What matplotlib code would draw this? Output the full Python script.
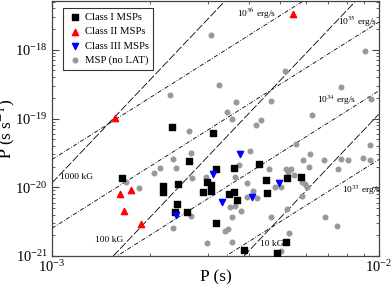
import numpy as np
import matplotlib
matplotlib.use("Agg")
import matplotlib.pyplot as plt
from matplotlib.ticker import LogLocator, NullFormatter

plt.rcParams['font.family'] = ['Liberation Serif', 'DejaVu Serif']
plt.rcParams['mathtext.fontset'] = 'stix'

# periods in ms, period derivatives in units of 1e-21 s/s
class1_p = [2.33, 3.11, 2.62, 3.17, 3.60, 4.30, 1.64, 2.19, 2.19, 2.43, 2.98, 3.06, 4.51, 2.90,
            3.06, 3.48, 3.60, 3.68, 4.55, 5.23, 5.77, 2.41, 2.59, 2.38, 3.17, 3.87, 5.20, 4.88]
class1_pdot = [76.5, 60.6, 23.8, 18.2, 18.9, 21.5, 13.5, 10.3, 8.46, 11.1, 11.8, 10.7, 12.6, 8.46,
               8.75, 7.92, 8.46, 6.48, 8.18, 13.5, 14.0, 5.67, 4.34, 4.34, 3.01, 1.22, 1.60, 1.11]

class2_p = [5.46, 1.56, 1.61, 1.74, 1.66, 1.87]
class2_pdot = [3320, 103, 7.92, 9.05, 4.49, 2.91]

class3_p = [3.76, 3.11, 3.31, 4.09, 2.39, 4.95]
class3_pdot = [30.1, 15.4, 6.06, 7.16, 3.93, 11.4]

nolat_p = [3.06, 3.24, 2.30, 3.65, 3.43, 3.55, 4.21, 4.36, 2.62, 9.06, 5.16, 7.65, 4.68, 9.45,
           6.24, 5.57, 4.03, 9.39, 1.68, 1.85, 2.05, 2.14, 2.34, 2.39, 2.66, 2.68, 2.96, 3.63,
           3.73, 4.61, 3.95, 4.12, 3.95, 4.24, 3.50, 3.63, 3.78, 2.34, 3.55, 3.38, 3.45, 2.98,
           3.55, 6.15, 5.86, 6.79, 7.65, 8.04, 8.94, 9.39, 6.11, 7.49, 5.20, 5.38, 5.27, 5.50,
           4.81, 5.02, 5.82, 5.94, 6.02, 5.82, 5.23, 4.68, 6.84, 7.44, 5.31, 5.02, 2.66]
nolat_pdot = [1650, 311, 223, 171, 126, 100, 81.8, 96.7, 64.8, 967, 496, 291, 182, 195,
              114, 42.0, 33.2, 40.6, 11.8, 9.67, 16.0, 18.9, 25.5, 18.9, 31.1, 13.5, 14.0, 14.0,
              20.8, 18.2, 11.4, 8.75, 7.16, 6.93, 5.13, 5.30, 4.49, 2.55, 3.67, 2.30, 2.46, 1.54,
              1.60, 30.1, 24.6, 24.6, 25.5, 24.6, 26.3, 24.6, 19.5, 18.2, 18.2, 18.2, 16.5, 14.9,
              10.0, 10.0, 11.8, 11.1, 10.0, 7.41, 4.80, 3.67, 3.67, 2.72, 2.15, 1.18, 3.80]

# light-cylinder field lines (G) and spin-down luminosity lines (erg/s)
blc_values = [1e4, 1e5, 1e6]
blc_labels = ['10 kG', '100 kG', '1000 kG']
blc_label_pos = [(4.71e-3, 1.49e-21), (1.50e-3, 1.71e-21), (1.19e-3, 1.40e-20)]
edot_values = [1e33, 1e34, 1e35, 1e36]
edot_labels = ['10$^{33}$ erg/s', '10$^{34}$ erg/s', '10$^{35}$ erg/s', '10$^{36}$ erg/s']
edot_label_pos = [(8.85e-3, 9.0e-21), (7.45e-3, 1.82e-19), (8.6e-3, 2.55e-18), (4.24e-3, 3.3e-18)]

fig = plt.figure(figsize=(3.91, 2.84), dpi=100)
ax = fig.add_axes([0.133, 0.0986, 0.836, 0.898])

P = np.logspace(-3, -2, 200)
for b in blc_values:
    ax.plot(P, (b / 2.94e8) ** 2 * P ** 5, color='k', lw=0.6, dashes=(9.5, 2.5), zorder=1)
for e in edot_values:
    ax.plot(P, e * P ** 3 / (4 * np.pi ** 2 * 1e45), color='k', lw=0.6,
            dashes=(5, 2, 1, 2), zorder=1)

for (x, y), t in zip(blc_label_pos, blc_labels):
    ax.text(x, y, t, fontsize=6.8, ha='center', va='center')
for (x, y), t in zip(edot_label_pos, edot_labels):
    ax.text(x, y, t, fontsize=6.8, ha='center', va='center')

ax.scatter(np.array(class1_p) * 1e-3, np.array(class1_pdot) * 1e-21, marker='s', s=16,
           color='k', label='Class I MSPs', zorder=3)
ax.scatter(np.array(class2_p) * 1e-3, np.array(class2_pdot) * 1e-21, marker='^', s=20,
           color='red', label='Class II MSPs', zorder=3)
ax.scatter(np.array(class3_p) * 1e-3, np.array(class3_pdot) * 1e-21, marker='v', s=20,
           color='blue', label='Class III MSPs', zorder=3)
ax.scatter(np.array(nolat_p) * 1e-3, np.array(nolat_pdot) * 1e-21, marker='o', s=11,
           color='#999999', label='MSP (no LAT)', zorder=2)

ax.set_xscale('log')
ax.set_yscale('log')
ax.set_xlim(1e-3, 1e-2)
ax.set_ylim(1e-21, 10 ** -17.29)
ax.xaxis.set_minor_locator(LogLocator(base=10, subs=np.arange(2, 10)))
ax.xaxis.set_minor_formatter(NullFormatter())
ax.yaxis.set_minor_locator(LogLocator(base=10, subs=np.arange(2, 10)))
ax.yaxis.set_minor_formatter(NullFormatter())
ax.tick_params(which='both', direction='in', top=True, right=True, labelsize=10.5,
               color='#444444')
ax.tick_params(axis='x', pad=2)
ax.tick_params(axis='y', pad=3)
ax.tick_params(which='major', length=5)
ax.tick_params(which='minor', length=2.5)
for s in ax.spines.values():
    s.set_color('#444444')
    s.set_linewidth(0.9)

ax.set_xlabel('P (s)', fontsize=12.5, labelpad=-4)
ax.set_ylabel(r'$\dot{\rm P}$ (s s$^{-1}$)', fontsize=12.5, labelpad=-2)

leg = ax.legend(loc='upper left', bbox_to_anchor=(0.033, 0.973), fontsize=7.7, frameon=True,
                fancybox=False, borderaxespad=0, handletextpad=0.3, labelspacing=0.45,
                borderpad=0.45, handlelength=1.3)
leg.get_frame().set_edgecolor('k')
leg.get_frame().set_linewidth(0.8)

fig.savefig('out.png', dpi=100)
